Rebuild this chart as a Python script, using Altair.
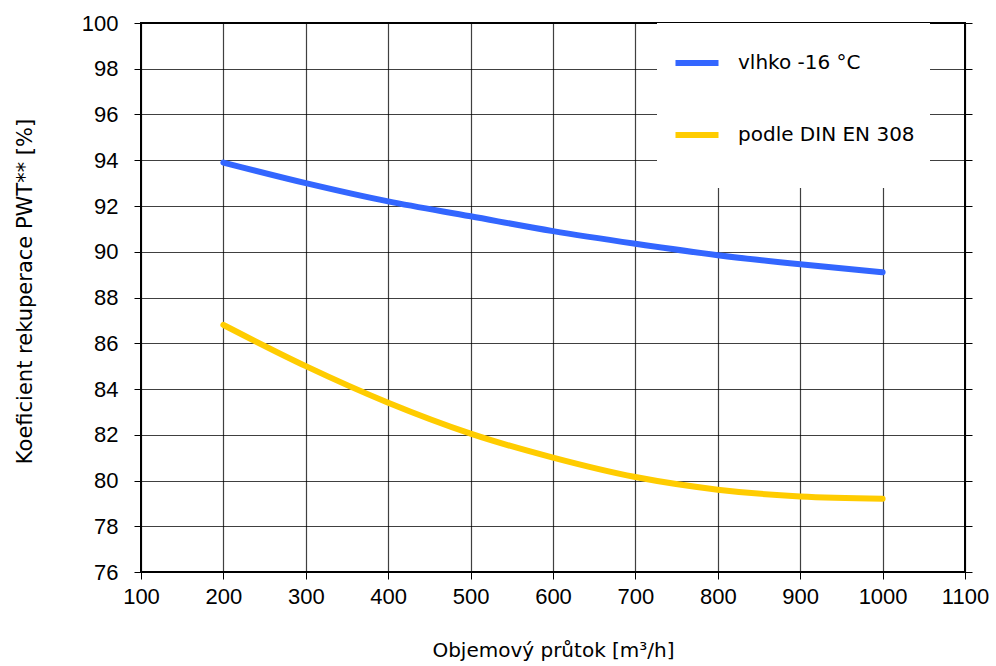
import altair as alt
import pandas as pd

flow = [200, 300, 400, 500, 600, 700, 800, 900, 1000]
vlhko = [93.9, 93.0, 92.2, 91.55, 90.9, 90.35, 89.85, 89.45, 89.1]
din = [86.8, 85.0, 83.4, 82.05, 81.0, 80.15, 79.6, 79.3, 79.2]
series = ["vlhko -16 °C", "podle DIN EN 308"]
colors = ["#3366ff", "#ffcc00"]
x_ticks = list(range(100, 1101, 100))
y_ticks = list(range(76, 101, 2))

rows = []
for f, v in zip(flow, vlhko):
    rows.append({"flow": f, "val": v, "series": series[0]})
for f, v in zip(flow, din):
    rows.append({"flow": f, "val": v, "series": series[1]})
df = pd.DataFrame(rows)

xscale = alt.Scale(domain=[100, 1100], nice=False)
yscale = alt.Scale(domain=[76, 100], nice=False)

x = alt.X("flow:Q", scale=xscale,
          axis=alt.Axis(values=x_ticks, format="d", labelOverlap=False, labelFlush=False,
                        title="Objemový průtok [m³/h]", grid=True,
                        labelFont="Liberation Sans", labelFontSize=22, labelColor="black",
                        labelPadding=7, tickSize=7, tickColor="black", tickWidth=1,
                        titleFont="DejaVu Sans", titleFontSize=20, titleFontWeight="normal",
                        titleColor="black", titlePadding=33, domain=False,
                        gridColor="black", gridOpacity=0.75, gridWidth=1.2))
y = alt.Y("val:Q", scale=yscale,
          axis=alt.Axis(values=y_ticks, format="d", labelOverlap=False, labelFlush=False,
                        title="Koeficient rekuperace PWT** [%]", grid=True,
                        labelFont="Liberation Sans", labelFontSize=22, labelColor="black",
                        labelPadding=16, tickSize=7, tickColor="black", tickWidth=1,
                        titleFont="DejaVu Sans", titleFontSize=21, titleFontWeight="normal",
                        titleColor="black", titlePadding=46, titleY=268, domain=False,
                        gridColor="black", gridOpacity=0.75, gridWidth=1.2))

lines = alt.Chart(df).mark_line(strokeWidth=6, strokeCap="round", interpolate="monotone").encode(
    x=x, y=y,
    color=alt.Color("series:N", scale=alt.Scale(domain=series, range=colors),
                    sort=series,
                    legend=alt.Legend(title="\u00a0" * 70, titleOrient="bottom", titleFontSize=12,
                                      titleFont="DejaVu Sans", titlePadding=15, titleLimit=1000,
                                      orient="none", legendX=516, legendY=0,
                                      fillColor="white", padding=15, symbolType="stroke",
                                      symbolStrokeWidth=6, symbolSize=1850,
                                      labelFont="DejaVu Sans", labelFontSize=20, labelColor="black",
                                      labelOffset=16, rowPadding=35, labelLimit=400)),
)

right = alt.Chart(df).mark_line(opacity=0).encode(
    x=x,
    y=alt.Y("val:Q", scale=yscale,
            axis=alt.Axis(orient="right", values=y_ticks, labels=False, title=None,
                          tickSize=7, tickColor="black", grid=False, domain=False)),
)

chart = alt.layer(lines, right).resolve_axis(y="independent").properties(
    width=824, height=549,
    padding={"left": 141, "top": 23, "right": 31, "bottom": 94},
    autosize=alt.AutoSizeParams(type="none"),
    background="white",
).configure_view(stroke="black", strokeWidth=2)

chart.save("out.html", embed_options={"renderer": "svg", "actions": False})
